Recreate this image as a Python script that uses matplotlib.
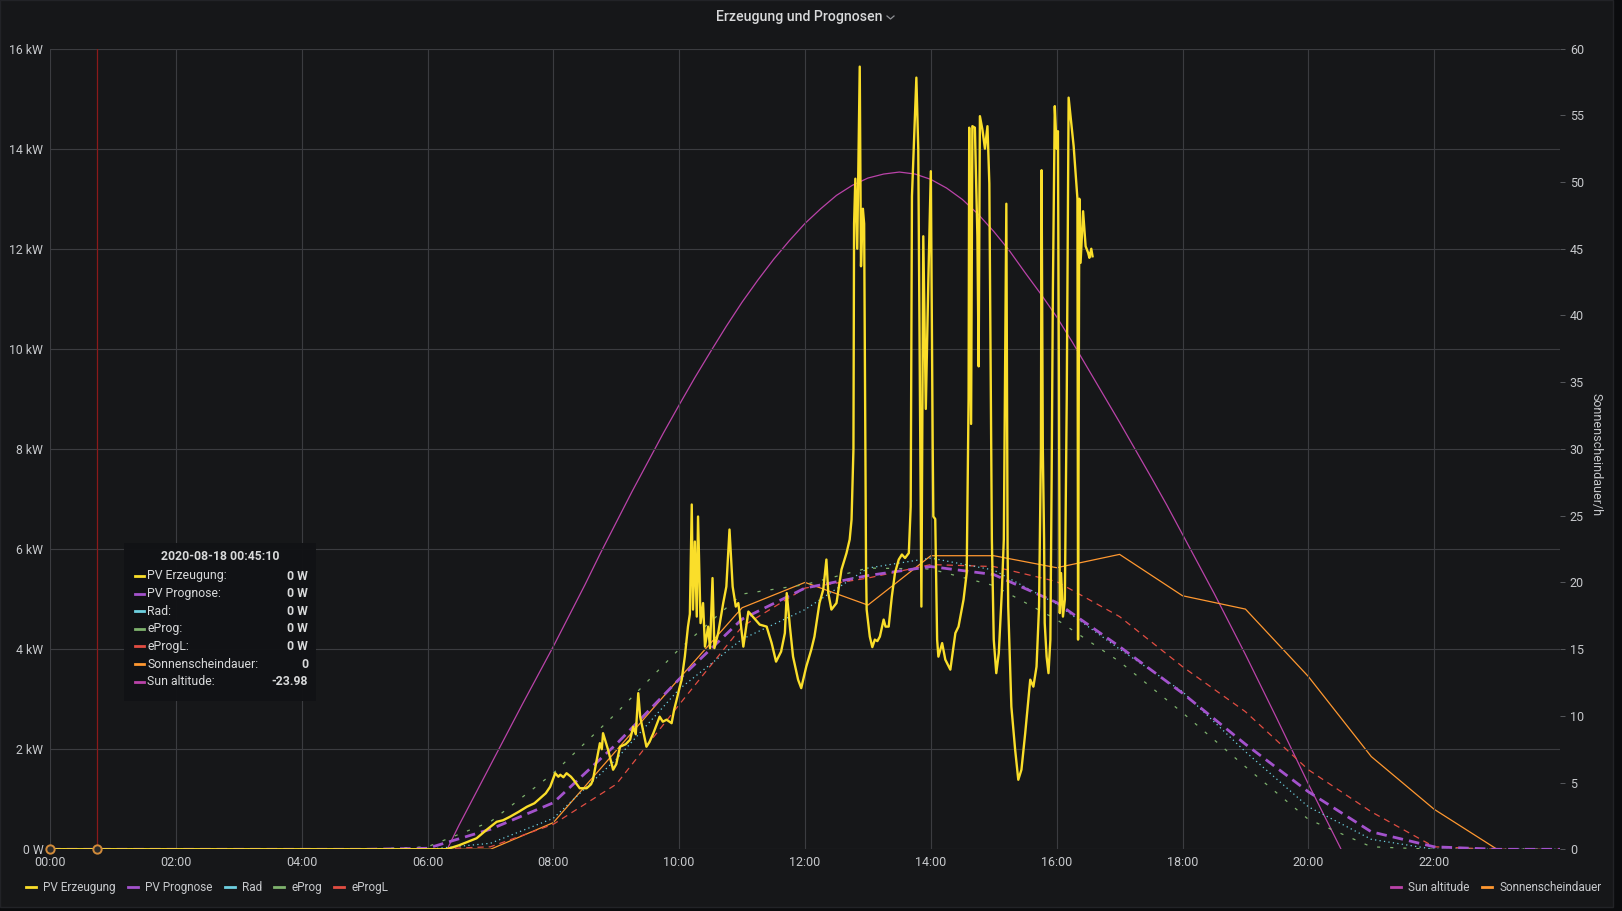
import matplotlib.pyplot as plt
from matplotlib.lines import Line2D
from matplotlib.patches import Rectangle
from matplotlib.transforms import Affine2D

plt.rcParams['font.family'] = ['Roboto', 'DejaVu Sans']

# --- Daten ---
# PV Erzeugung: Zeit in Stunden, Leistung in kW
pv_t = [0.0, 6.3, 6.5, 6.78, 6.95, 7.1, 7.2, 7.31, 7.45, 7.58, 7.7, 7.79, 7.88, 7.95,
        8.03, 8.08, 8.11, 8.16, 8.21, 8.28, 8.32, 8.42, 8.53, 8.6, 8.63, 8.7, 8.74, 8.77,
        8.79, 8.87, 8.95, 9.0, 9.06, 9.15, 9.22, 9.27, 9.31, 9.35, 9.38, 9.48, 9.53, 9.59,
        9.69, 9.74, 9.8, 9.88, 9.92, 9.96, 10.01, 10.04, 10.09, 10.14, 10.17, 10.2, 10.22,
        10.25, 10.28, 10.3, 10.34, 10.38, 10.41, 10.46, 10.49, 10.53, 10.56, 10.62, 10.7,
        10.75, 10.8, 10.85, 10.9, 10.94, 10.96, 11.02, 11.1, 11.17, 11.28, 11.39, 11.47,
        11.54, 11.62, 11.68, 11.71, 11.76, 11.81, 11.89, 11.94, 12.02, 12.1, 12.15, 12.23,
        12.29, 12.34, 12.37, 12.42, 12.5, 12.58, 12.66, 12.71, 12.74, 12.77, 12.78, 12.8,
        12.83, 12.87, 12.89, 12.92, 12.94, 12.96, 12.97, 12.98, 13.03, 13.07, 13.11, 13.15,
        13.19, 13.25, 13.28, 13.33, 13.38, 13.43, 13.49, 13.54, 13.59, 13.65, 13.68, 13.7,
        13.77, 13.8, 13.83, 13.85, 13.88, 13.92, 13.96, 14.0, 14.03, 14.04, 14.07, 14.1,
        14.12, 14.18, 14.23, 14.31, 14.39, 14.44, 14.52, 14.57, 14.6, 14.61, 14.64, 14.66,
        14.7, 14.74, 14.76, 14.78, 14.82, 14.86, 14.9, 14.93, 14.96, 14.97, 15.0, 15.04,
        15.08, 15.13, 15.16, 15.2, 15.22, 15.23, 15.28, 15.34, 15.39, 15.44, 15.5, 15.58,
        15.63, 15.68, 15.72, 15.75, 15.76, 15.78, 15.8, 15.81, 15.84, 15.87, 15.9, 15.92,
        15.94, 15.97, 16.0, 16.02, 16.05, 16.07, 16.1, 16.13, 16.16, 16.19, 16.27, 16.33,
        16.34, 16.36, 16.38, 16.42, 16.46, 16.5, 16.52, 16.55, 16.57]
pv_kw = [0.0, 0.0, 0.08, 0.22, 0.4, 0.55, 0.58, 0.65, 0.75, 0.85, 0.92, 1.02, 1.12, 1.25,
         1.52, 1.45, 1.49, 1.44, 1.52, 1.45, 1.39, 1.22, 1.22, 1.3, 1.39, 1.85, 2.12, 2.0,
         2.32, 1.99, 1.59, 1.7, 2.05, 2.1, 2.19, 2.45, 2.3, 3.12, 2.65, 2.05, 2.15, 2.32,
         2.65, 2.55, 2.59, 2.52, 2.79, 2.99, 3.25, 3.39, 3.85, 4.45, 4.7, 6.89, 4.79,
         6.15, 4.65, 6.65, 4.52, 4.92, 4.05, 4.45, 4.02, 5.42, 4.02, 4.32, 4.92,
         5.25, 6.39, 5.25, 4.85, 4.92, 4.72, 4.05, 4.75, 4.65, 4.49, 4.45, 4.12,
         3.75, 3.95, 4.32, 5.12, 4.45, 3.85, 3.39, 3.22, 3.65, 3.99, 4.25, 4.92,
         5.19, 5.79, 5.12, 4.79, 4.92, 5.59, 5.92, 6.19, 6.59, 8.0, 12.5, 13.4,
         12.0, 15.64, 11.65, 12.8, 12.5, 8.0, 5.65, 4.79, 4.25, 4.04, 4.19, 4.16,
         4.25, 4.59, 4.45, 4.45, 5.05, 5.52, 5.79, 5.89, 5.82, 5.92, 6.85, 13.05,
         15.42, 14.0, 8.65, 4.85, 12.25, 8.8, 11.35, 13.55, 8.0, 6.65, 6.6, 4.19,
         3.85, 4.12, 3.79, 3.59, 4.32, 4.45, 4.99, 5.52, 9.0, 14.42, 8.5, 14.45,
         14.42, 12.25, 9.65, 14.65, 14.38, 14.0, 14.45, 13.3, 8.0, 6.19, 4.19, 3.52,
         3.92, 5.19, 6.19, 12.9, 6.0, 4.85, 2.85, 1.99, 1.39, 1.59, 2.32, 3.39,
         3.25, 3.65, 4.85, 8.0, 13.57, 8.0, 6.19, 4.52, 3.85, 3.52, 4.19, 7.39,
         11.19, 14.85, 14.0, 14.35, 4.72, 5.52, 4.65, 4.99, 9.0, 15.02, 14.05, 13.0,
         4.19, 13.0, 11.72, 12.75, 12.05, 11.92, 11.82, 12.0, 11.85]

# Prognosen, stündlich 00:00 .. 24:00, in kW
hours = list(range(25))
pv_prognose = [0, 0, 0, 0, 0, 0, 0.02, 0.4, 0.93, 2.1, 3.4, 4.6, 5.22, 5.47, 5.65, 5.49,
               4.93, 4.05, 3.12, 2.1, 1.15, 0.35, 0.05, 0, 0]
rad = [0, 0, 0, 0, 0, 0, 0.0, 0.12, 0.62, 1.8, 3.2, 4.2, 4.79, 5.62, 5.82, 5.58,
       4.9, 4.0, 3.15, 1.95, 0.85, 0.2, 0.0, 0, 0]
eprog = [0, 0, 0, 0, 0, 0, 0.05, 0.55, 1.52, 2.72, 4.0, 5.1, 5.29, 5.62, 5.6, 5.27,
         4.59, 3.75, 2.73, 1.65, 0.6, 0.05, 0, 0, 0]
eprogl = [0, 0, 0, 0, 0, 0, 0.0, 0.05, 0.5, 1.3, 2.89, 4.45, 5.22, 5.42, 5.69, 5.65,
          5.35, 4.65, 3.65, 2.75, 1.59, 0.75, 0.05, 0, 0]

# Sonnenscheindauer (rechte Achse), stündlich 00:00 .. 23:00
sonne_t = list(range(24))
sonne = [0, 0, 0, 0, 0, 0, 0, 0, 2.0, 7.4, 12.8, 18.1, 20.0, 18.3, 22.0, 22.0,
         21.1, 22.1, 19.0, 18.0, 12.95, 6.95, 3.0, 0]

# Sonnenhöhe (rechte Achse): nachts halbstündlich, tagsüber viertelstündlich
sun_t = ([i * 0.5 for i in range(12)] + [6 + i * 0.25 for i in range(61)]
         + [21.5, 22.0, 22.5, 23.0, 23.5, 24.0])
sun_alt = [-23.4, -23.8, -24.1, -24.15, -23.9, -23.2, -22.0, -20.3, -18.0, -15.2,
           -11.9, -8.1,
           -3.0, -0.6, 1.8, 4.05, 6.3, 8.55, 10.8, 13.0, 15.2, 17.5, 19.8, 22.2,
           24.5, 26.8, 29.0, 31.2, 33.3, 35.35, 37.3, 39.2, 41.0, 42.65, 44.2, 45.6,
           46.9, 48.0, 49.0, 49.75, 50.3, 50.6, 50.75, 50.6, 50.2, 49.55, 48.7, 47.6,
           46.3, 44.85, 43.2, 41.6, 39.9, 38.0, 36.0, 34.0, 32.0, 29.95, 27.9, 25.8,
           23.6, 21.4, 19.2, 16.9, 14.6, 12.2, 9.8, 7.35, 4.9, 2.55, 0.2, -2.2, -4.6,
           -9.3, -13.4, -16.8, -19.6, -21.7, -23.2]

hover_t = 0.75
tip_title = '2020-08-18 00:45:10'
tip_names = ['PV Erzeugung:', 'PV Prognose:', 'Rad:', 'eProg:', 'eProgL:',
             'Sonnenscheindauer:', 'Sun altitude:']
tip_values = ['0 W', '0 W', '0 W', '0 W', '0 W', '0', '-23.98']

c_pv = '#FADE2A'
c_prog = '#A352CC'
c_rad = '#6ED0E0'
c_eprog = '#7EB26D'
c_eprogl = '#E24D42'
c_sonne = '#FF9830'
c_sun = '#BA43A9'
tip_colors = [c_pv, c_prog, c_rad, c_eprog, c_eprogl, c_sonne, c_sun]

txt = '#c7c9cc'
W, H = 1622, 911

fig = plt.figure(figsize=(W / 100, H / 100), dpi=100)
fig.patch.set_facecolor('#0b0c0e')
px = Affine2D().scale(1 / W, -1 / H).translate(0, 1) + fig.transFigure

fig.add_artist(Rectangle((0, 0), 1613, 907, transform=px, facecolor='#161719',
                         edgecolor='#222327', lw=1, zorder=0))

ax = fig.add_axes([50 / W, 1 - 849.3 / H, 1510 / W, 800.7 / H])
ax2 = ax.twinx()
ax.set_zorder(ax2.get_zorder() + 1)
ax.patch.set_visible(False)
ax2.patch.set_visible(False)

# rechte Achse
ax2.plot(sun_t, sun_alt, color=c_sun, lw=0.9)
ax2.plot(sonne_t, sonne, color=c_sonne, lw=0.9)
ax2.set_ylim(0, 60)
ax2.set_yticks(range(0, 61, 5))
ax2.tick_params(axis='y', length=3.6, width=0.7, color='#55575c', pad=3.5,
                labelcolor=txt, labelsize=9)

# linke Achse
ax.plot(hours, eprogl, color=c_eprogl, lw=0.9, dashes=(5, 4))
ax.plot(hours, eprog, color=c_eprog, lw=0.9, dashes=(2.5, 8))
ax.plot(hours, rad, color=c_rad, lw=0.9, dashes=(1, 2.6))
ax.plot(hours, pv_prognose, color=c_prog, lw=2.0, dashes=(3.8, 2.2))
ax.plot(pv_t, pv_kw, color=c_pv, lw=1.7)

ax.axvline(hover_t, color='#8a1a1a', lw=0.9, zorder=6)
ax.plot([0, hover_t], [0, 0], 'o', ms=6, mfc='#2a2a2a', mec='#d08a3a', mew=1.4,
        clip_on=False, zorder=7)

ax.set_xlim(0, 24)
ax.set_ylim(0, 16)
ax.set_xticks(range(0, 23, 2))
ax.set_xticklabels(['%02d:00' % h for h in range(0, 23, 2)])
ax.set_yticks(range(0, 17, 2))
ax.set_yticklabels(['0 W'] + ['%d kW' % v for v in range(2, 17, 2)])
ax.tick_params(axis='x', length=0, pad=5, colors=txt, labelsize=9)
ax.tick_params(axis='y', length=0, pad=4.8, colors=txt, labelsize=8.8)
ax.grid(True, color='#3b3c40', lw=0.8)
ax.set_axisbelow(True)
for a in (ax, ax2):
    for s in a.spines.values():
        s.set_visible(False)

# Titel und Achsenbeschriftung
fig.text(799, 17.5, 'Erzeugung und Prognosen', transform=px, ha='center', va='center',
         fontsize=10.2, weight='medium', color='#d8d9da')
fig.add_artist(Line2D([887, 890.5, 894], [16, 19, 16], transform=px, color='#8e9094',
                      lw=0.9))
fig.text(1596, 455, 'Sonnenscheindauer/h', transform=px, rotation=270, ha='center',
         va='center', fontsize=9, color=txt)

# Legenden
left_names = ['PV Erzeugung', 'PV Prognose', 'Rad', 'eProg', 'eProgL']
left_cols = [c_pv, c_prog, c_rad, c_eprog, c_eprogl]
h_left = [Line2D([0], [0], color=c, lw=2) for c in left_cols]
fig.legend(h_left, left_names, loc='center left', bbox_to_anchor=(15 / W, 1 - 887.5 / H),
           ncol=5, frameon=False, handlelength=0.85, handletextpad=0.6, columnspacing=1.05,
           fontsize=8.5, labelcolor=txt)
h_right = [Line2D([0], [0], color=c, lw=2) for c in [c_sun, c_sonne]]
fig.legend(h_right, ['Sun altitude', 'Sonnenscheindauer'], loc='center right',
           bbox_to_anchor=(1612 / W, 1 - 887.5 / H), ncol=2, frameon=False,
           handlelength=0.85, handletextpad=0.6, columnspacing=1.05, fontsize=8.5,
           labelcolor=txt)

# Tooltip
fig.add_artist(Rectangle((124, 543), 192, 158, transform=px, facecolor='#111215',
                         edgecolor='none', alpha=0.96, zorder=20))
fig.text(220, 556, tip_title, transform=px, ha='center', va='center', fontsize=8.8,
         weight='bold', color='#d8d9da', zorder=21)
for i, (name, val, col) in enumerate(zip(tip_names, tip_values, tip_colors)):
    y = 576 + i * 17.6
    fig.add_artist(Line2D([135, 144], [y, y], transform=px, color=col, lw=2, zorder=21))
    fig.text(147, y, name, transform=px, ha='left', va='center', fontsize=8.8,
             color='#d8d9da', zorder=21)
    fig.text(308, y, val, transform=px, ha='right', va='center', fontsize=8.8,
             weight='bold', color='#d8d9da', zorder=21)

fig.savefig('out.png', dpi=100, facecolor=fig.get_facecolor())
